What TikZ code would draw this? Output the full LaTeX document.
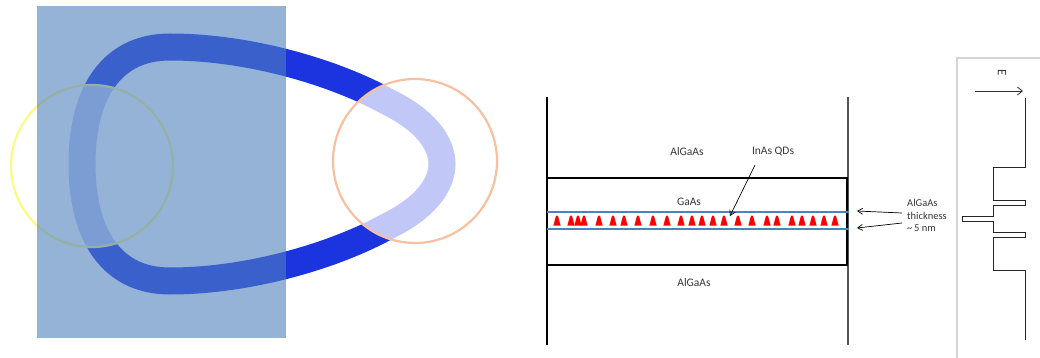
\documentclass[tikz,border=0pt]{standalone}
\usepackage{fontspec}
\setmainfont{Carlito}
\usetikzlibrary{arrows.meta}
\definecolor{ringblue}{RGB}{28,51,224}
\definecolor{panelblue}{RGB}{79,129,189}
\definecolor{ringyellow}{RGB}{255,248,130}
\definecolor{ringsalmon}{RGB}{248,192,160}
\definecolor{framegray}{RGB}{212,212,212}
\definecolor{wallgray}{RGB}{85,85,85}
\definecolor{labelgray}{RGB}{55,55,55}
\tikzset{
  lbl/.style={font=\fontsize{11.5}{13}\selectfont, text=labelgray, inner sep=1pt},
  barrier/.style={draw=panelblue, line width=2.8pt},
  qd/.style={fill=red, draw=none},
  ptr/.style={draw=black, line width=0.7pt, -{Straight Barb[length=5pt,width=6pt]}},
  profile/.style={draw=black!85, line width=0.9pt, line join=miter},
  halo/.style={fill=white, fill opacity=0.73, line width=2.2pt}
}
\begin{document}
\begin{tikzpicture}[x=1pt, y=-1pt]
\useasboundingbox (0,0) rectangle (1040,358);

% ---- orbit ring with two detector circles and shaded half-plane ----
\draw[ringblue, line width=27pt]
  (82,164) .. controls (82,95) and (110,47) .. (170,47)
  .. controls (250,47) and (336,73) .. (388,102)
  .. controls (425,120) and (442,143) .. (442,164)
  .. controls (442,185) and (425,208) .. (388,226)
  .. controls (336,255) and (250,281) .. (170,281)
  .. controls (110,281) and (82,233) .. (82,164) -- cycle;
\node[draw=ringyellow, halo, circle, minimum size=162pt] (cl) at (92,166) {};
\node[draw=ringsalmon, halo, circle, minimum size=164pt] (cr) at (415,161) {};
\fill[panelblue, fill opacity=0.6] (37,6) rectangle (286,338);

% ---- layer stack ----
\draw[black, line width=1.2pt] (547,97) -- (547,345);
\draw[wallgray, line width=2.4pt] (848,97) -- (848,345);
\node[draw=black, line width=1.6pt, minimum width=300pt, minimum height=87pt,
      inner sep=0pt] (well) at (697,221.5) {};
\draw[barrier] (547,212) -- (849,212);
\draw[barrier] (547,229) -- (849,229);
\foreach \x in {557,571,578,584,599,613,624,638,653,667,681,692,702,713,724,
                738,752,767,777,792,802,813,824,835}
  \fill[qd] (\x-3.6,225.5) -- (\x-1.2,216.5) .. controls (\x-0.6,215) and (\x+0.6,215) .. (\x+1.2,216.5) -- (\x+3.6,225.5) -- cycle;

\node[lbl] (top) at (687,152) {AlGaAs};
\node[lbl] (qds) at (773,152) {InAs QDs};
\node[lbl] (gaas) at (689,202) {GaAs};
\node[lbl] (bot) at (694,283) {AlGaAs};
\node[lbl, anchor=west, align=left, font=\fontsize{10.5}{12.5}\selectfont]
  (thick) at (906,215.5) {AlGaAs\\thickness\\\char"007E\,5 nm};

\coordinate (qtail) at (755,165);
\coordinate (qtip) at (730,216);
\draw[ptr] (qtail) -- (qtip);
\coordinate (t1) at (902,213);
\coordinate (h1) at (857,211);
\coordinate (t2) at (902,223);
\coordinate (h2) at (857,228);
\draw[ptr] (t1) -- (h1);
\draw[ptr] (t2) -- (h2);

% ---- band-edge profile ----
\draw[framegray, line width=2pt] (957,358) -- (957,58) -- (1040,58);
\node[lbl, rotate=-90, font=\fontsize{13}{13}\selectfont] (elab) at (1002,73) {E};
\coordinate (ea) at (975,91);
\coordinate (eb) at (1023,91);
\draw[draw=black!80, line width=0.8pt, -{Straight Barb[length=5pt,width=8pt]}] (ea) -- (eb);
\draw[profile] (1025,98) -- (1025,167) -- (993,167) -- (993,200) -- (1025,200)
  -- (1025,205) -- (993,205) -- (993,216) -- (962,216) -- (962,221) -- (993,221)
  -- (993,232) -- (1025,232) -- (1025,237) -- (993,237) -- (993,270) -- (1025,270)
  -- (1025,340);
\end{tikzpicture}
\end{document}
